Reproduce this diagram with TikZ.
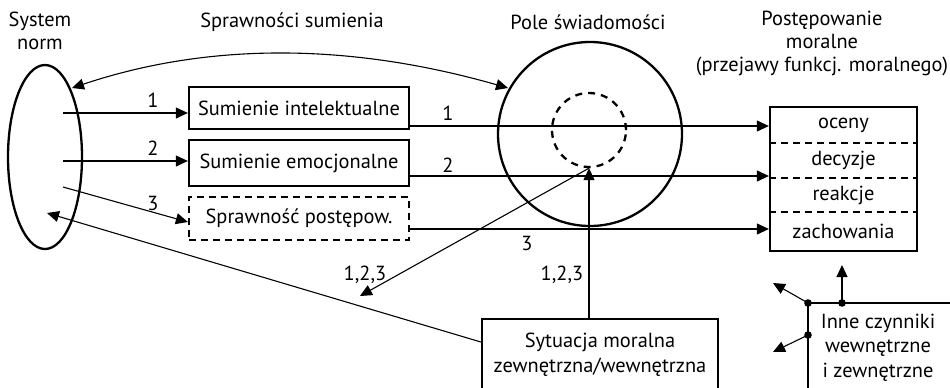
\documentclass[tikz,border=0pt]{standalone}
\usepackage{fontspec}
\setmainfont{PT Sans}
\usetikzlibrary{arrows.meta,shapes.geometric,calc}
\begin{document}
\begin{tikzpicture}[x=1pt,y=-1pt,
  every node/.style={font=\fontsize{20.4}{23}\selectfont, inner sep=0pt},
  thk/.style={line width=2.3pt},
  thn/.style={line width=1.1pt},
  tip/.style={-{Triangle[length=12pt,width=11pt]}},
  boxs/.style={draw, thk, minimum width=220pt, rectangle},
  lbl/.style={}]
\useasboundingbox (0,0) rectangle (950,388);
\clip (0,0) rectangle (950,388);
% titles
\node[align=center] (t1) at (40,31) {System\\norm};
\node (t2) at (292,22) {Sprawności sumienia};
\node (t3) at (588,22) {Pole świadomości};
\node[align=center] (t4) at (822,44) {Postępowanie\\moralne\\(przejawy funkcj. moralnego)};
% system norm
\node[draw, thk, ellipse, minimum width=74pt, minimum height=184pt] (sn) at (45,157) {};
% boxes
\node[boxs, minimum height=42pt] (b1) at (299,108) {Sumienie intelektualne};
\node[boxs, minimum height=46pt] (b2) at (299,163) {Sumienie emocjonalne};
\node[boxs, minimum height=43pt, dashed, dash pattern=on 7pt off 5pt] (b3) at (299,218.5) {Sprawność postępow.};
% circles
\node[draw, thk, circle, minimum size=184pt] (pole) at (590,134) {};
\node[draw, thk, circle, minimum size=74pt, dash pattern=on 7pt off 6pt] (inner) at (589,130) {};
% right box
\node[draw, thk, minimum width=147pt, minimum height=144pt] (rb) at (843.5,179) {};
\draw[thk, dash pattern=on 7pt off 5pt] (rb.west |- 0,143) -- (rb.east |- 0,143);
\draw[thk, dash pattern=on 7pt off 5pt] (rb.west |- 0,178) -- (rb.east |- 0,178);
\draw[thk, dash pattern=on 7pt off 5pt] (rb.west |- 0,212) -- (rb.east |- 0,212);
\node (oc) at (843.5,125) {oceny};
\node (de) at (843.5,160.5) {decyzje};
\node (re) at (843.5,195) {reakcje};
\node (za) at (843.5,231) {zachowania};
% situation box
\node[draw, thk, minimum width=236pt, minimum height=100pt] (sy) at (600,369) {};
\node (sy1) at (600,342) {Sytuacja moralna};
\node (sy2) at (600,367) {zewnętrzna/wewnętrzna};
% inne czynniki
\coordinate (c1) at (808,303);
\coordinate (c2) at (842,303);
\coordinate (c3) at (808,335);
\draw[thk] (c1) -- (955,303);
\draw[thk] (c1) -- (808,395);
\fill (c1) circle (3.8pt) (c2) circle (3.8pt) (c3) circle (3.8pt);
\coordinate (a1) at (842,265);
\coordinate (a2) at (773,283);
\coordinate (a3) at (773,352);
\draw[thn, tip] (c2) -- (a1);
\draw[thn, tip] (c1) -- (a2);
\draw[thn, tip] (c3) -- (a3);
\node (in1) at (878,323) {Inne czynniki};
\node (in2) at (878,348) {wewnętrzne};
\node (in3) at (878,372) {i zewnętrzne};
% connectors from system norm
\coordinate (s1) at (63,113);
\coordinate (s2) at (63,161);
\coordinate (s3) at (63,187);
\draw[thn, tip] (s1) -- (b1.west |- s1);
\draw[thn, tip] (s2) -- (b2.west |- s2);
\draw[thn, tip] (s3) -- (b3.west |- 0,222);
\node (l1) at (153,100) {1};
\node (l2) at (153,148) {2};
\node (l3) at (153,203) {3};
% top curve
\draw[thn, {Triangle[length=12pt,width=11pt]}-{Triangle[length=12pt,width=11pt]}] (72,88) .. controls (200,45) and (340,40) .. (508,88);
% horizontal lines to right box
\draw[thn, tip] (b1.east |- 0,126) -- (rb.west |- 0,126);
\draw[thn, tip] (b2.east |- 0,176) -- (rb.west |- 0,176);
\draw[thn, tip] (b3.east |- 0,229) -- (rb.west |- 0,229);
\node (r1) at (448,113) {1};
\node (r2) at (448,165) {2};
\node (r3) at (527,243) {3};
% situation connectors
\draw[thn, tip] (sy.north -| inner.south) -- (inner.south);
\draw[thn, tip] (inner.south) -- (360,296);
\draw[thn, tip] (sy.west |- 0,342) -- (47,213);
\node (m1) at (365,275) {1,2,3};
\node (m2) at (562,275) {1,2,3};
\end{tikzpicture}
\end{document}
